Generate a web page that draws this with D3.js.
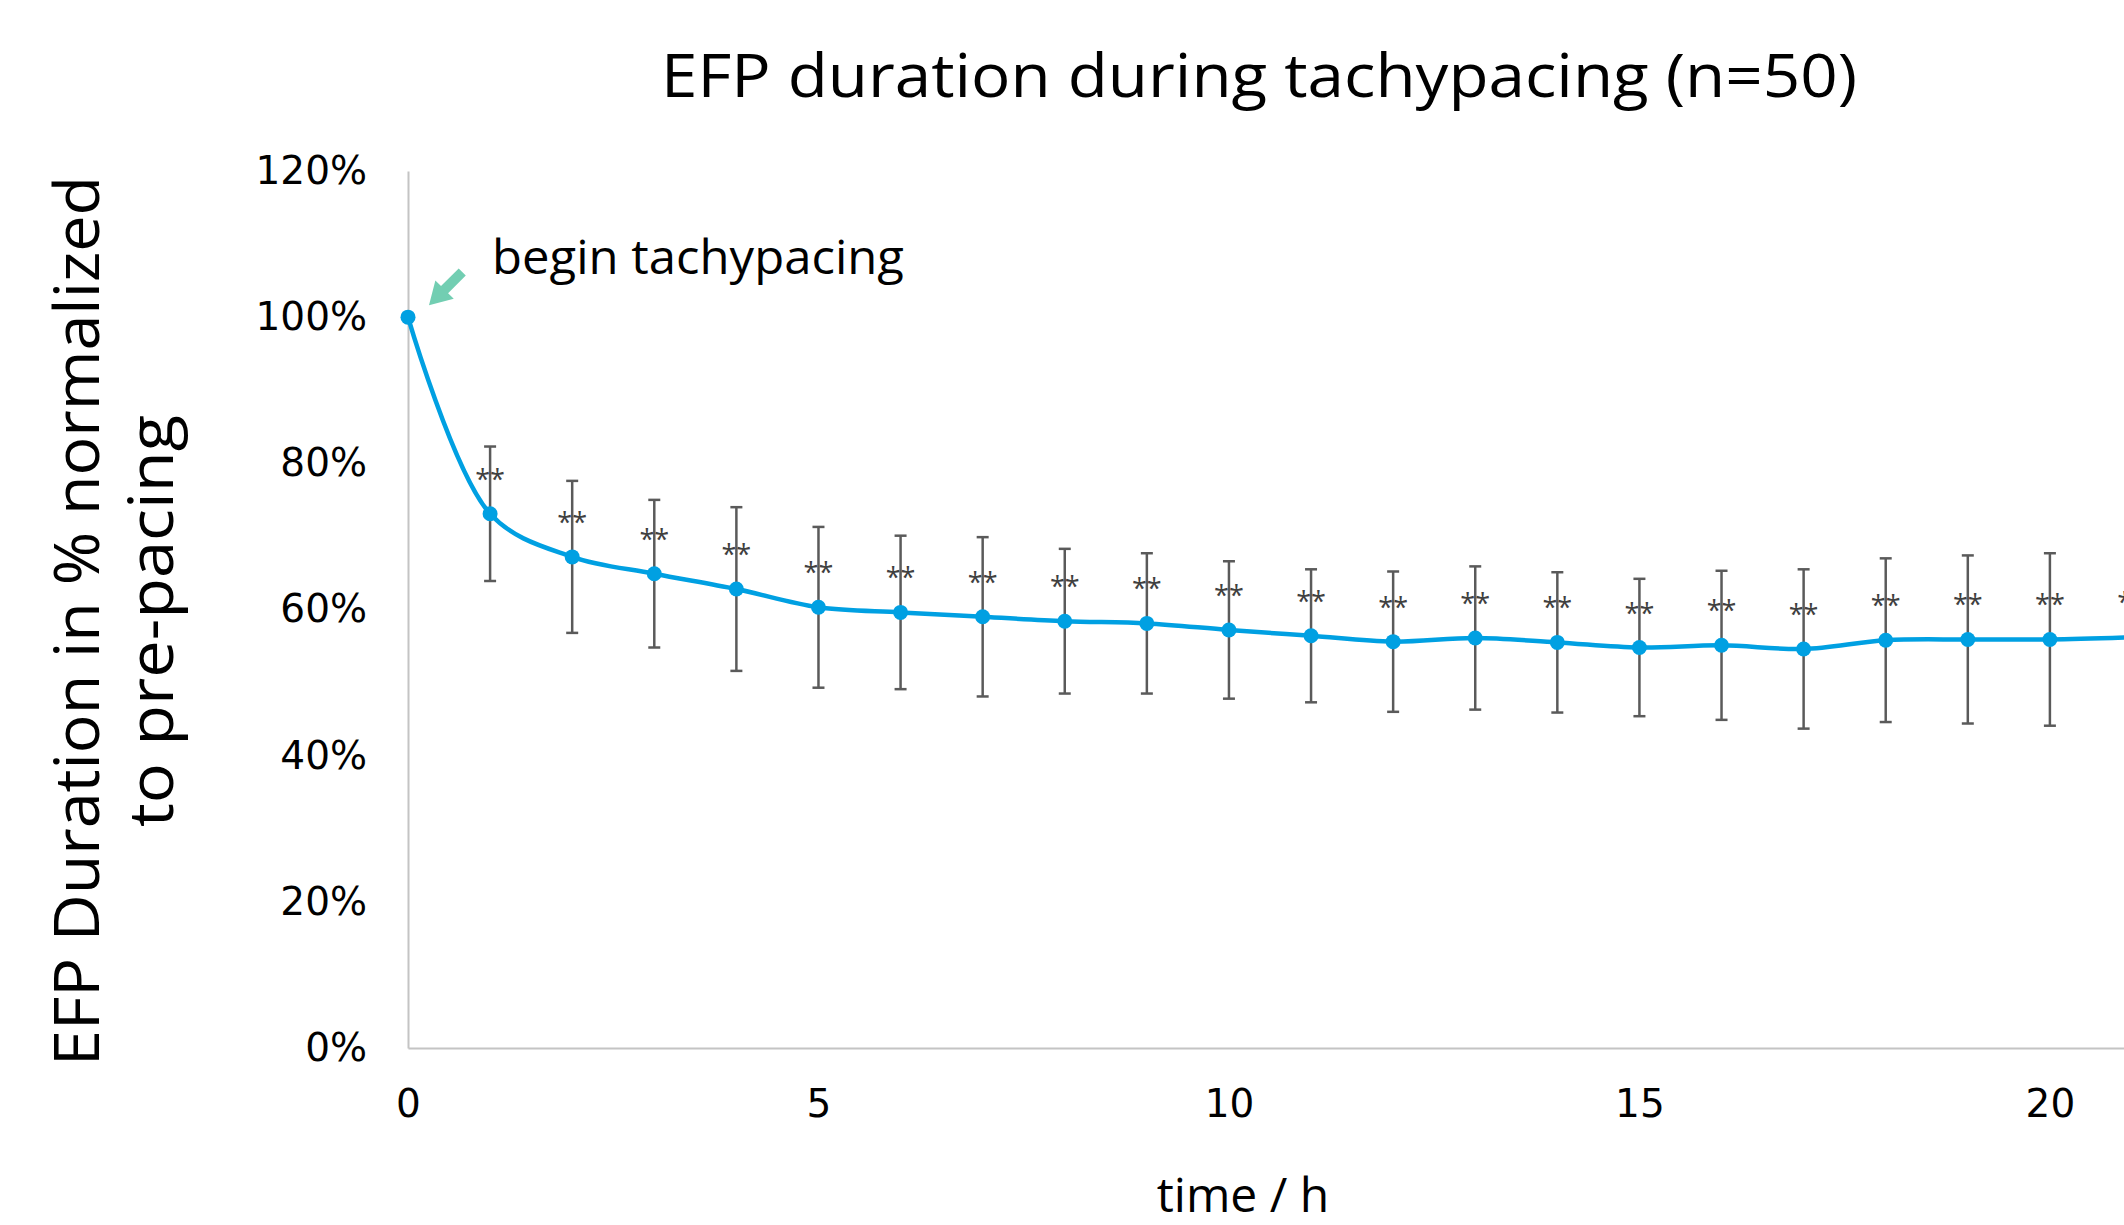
<!DOCTYPE html>
<html>
<head>
<meta charset="utf-8">
<script src="https://cdn.jsdelivr.net/npm/d3@7"></script>
<style>
    body { margin: 0; background: #fff; overflow: hidden; }
    #chart { width: 2124px; height: 1225px; }
</style>
</head>
<body>
<div id="chart"></div>
<script>
// values (percent of pre-pacing duration)
const hours = [0, 1, 2, 3, 4, 5, 6, 7, 8, 9, 10, 11, 12, 13, 14, 15, 16, 17, 18, 19, 20, 21];
const meanPct = [100, 73.1, 67.2, 64.9, 62.8, 60.3, 59.6, 59.0, 58.4, 58.1, 57.2, 56.4, 55.6, 56.1, 55.5, 54.8, 55.1, 54.6, 55.8, 55.9, 55.9, 56.2];
const sdPct = [0, 9.2, 10.4, 10.1, 11.2, 11.0, 10.5, 10.9, 9.9, 9.6, 9.4, 9.1, 9.6, 9.8, 9.6, 9.4, 10.2, 10.9, 11.2, 11.5, 11.8, 12.0];
const sigLabels = ["", "**", "**", "**", "**", "**", "**", "**", "**", "**", "**", "**", "**", "**", "**", "**", "**", "**", "**", "**", "**", "**"];
const yTicks = [0, 20, 40, 60, 80, 100, 120];
const xTicks = [0, 5, 10, 15, 20];

class EfpChart {
    constructor(_parentElement) {
        this.parentElement = _parentElement;
        this.initVis();
    }

    initVis() {
        let vis = this;

        vis.margin = {top: 171, left: 408};
        vis.width = 1724;   // 0..21 h, runs off the right edge like the original
        vis.height = 877;

        vis.svg = d3.select("#" + vis.parentElement).append("svg")
            .attr("width", 2124)
            .attr("height", 1225)
            .style("font-family", "'Open Sans', 'Noto Sans', sans-serif");

        vis.svg.append("text")
            .attr("x", 1259)
            .attr("y", 97)
            .attr("text-anchor", "middle")
            .style("font-size", "61px")
            .attr("textLength", 1196)
            .attr("lengthAdjust", "spacingAndGlyphs")
            .text("EFP duration during tachypacing (n=50)");

        // y title, two lines
        vis.svg.append("text")
            .attr("transform", "translate(99,621) rotate(-90)")
            .attr("text-anchor", "middle")
            .style("font-size", "63px")
            .attr("textLength", 890)
            .attr("lengthAdjust", "spacingAndGlyphs")
            .text("EFP Duration in % normalized");
        vis.svg.append("text")
            .attr("transform", "translate(173,621) rotate(-90)")
            .attr("text-anchor", "middle")
            .style("font-size", "63px")
            .attr("textLength", 412)
            .attr("lengthAdjust", "spacingAndGlyphs")
            .text("to pre-pacing");

        vis.svg.append("text")
            .attr("x", 1243)
            .attr("y", 1212)
            .attr("text-anchor", "middle")
            .style("font-size", "48px")
            .text("time / h");

        vis.g = vis.svg.append("g")
            .attr("transform", "translate(" + vis.margin.left + "," + vis.margin.top + ")");

        vis.x = d3.scaleLinear().domain([0, 21]).range([0, vis.width]);
        vis.y = d3.scaleLinear().domain([0, 120]).range([vis.height, 0]);

        vis.line = d3.line()
            .x(d => vis.x(d.hour))
            .y(d => vis.y(d.mean))
            .curve(d3.curveCatmullRom.alpha(0.5));

        vis.wrangleData();
    }

    wrangleData() {
        let vis = this;
        vis.data = hours.map((h, i) => ({
            hour: h,
            mean: meanPct[i],
            sd: sdPct[i],
            sig: sigLabels[i]
        }));
        vis.updateVis();
    }

    updateVis() {
        let vis = this;

        // axes
        let yAxis = vis.g.append("g")
            .call(d3.axisLeft(vis.y).tickValues(yTicks).tickSize(0).tickPadding(41).tickFormat(d => d + "%"));
        let xAxis = vis.g.append("g")
            .attr("transform", `translate(0,${vis.height})`)
            .call(d3.axisBottom(vis.x).tickValues(xTicks).tickSize(0).tickPadding(41).tickFormat(d3.format("d")));

        [yAxis, xAxis].forEach(ax => {
            ax.select(".domain").attr("stroke", "#c4c4c4").attr("stroke-width", 2);
            ax.selectAll("text")
                .style("font-size", "39px")
                .style("font-family", "'DejaVu Sans', sans-serif")
                .attr("fill", "#000");
        });

        let withErr = vis.data.filter(d => d.sd > 0);

        // error bars
        let eb = vis.g.append("g")
            .attr("stroke", "#5a5a5a")
            .attr("stroke-width", 2.5);
        eb.selectAll(".err")
            .data(withErr).enter().append("line")
            .attr("x1", d => vis.x(d.hour))
            .attr("x2", d => vis.x(d.hour))
            .attr("y1", d => vis.y(d.mean + d.sd))
            .attr("y2", d => vis.y(d.mean - d.sd));
        eb.selectAll(".capTop")
            .data(withErr).enter().append("line")
            .attr("x1", d => vis.x(d.hour) - 6)
            .attr("x2", d => vis.x(d.hour) + 6)
            .attr("y1", d => vis.y(d.mean + d.sd))
            .attr("y2", d => vis.y(d.mean + d.sd));
        eb.selectAll(".capBot")
            .data(withErr).enter().append("line")
            .attr("x1", d => vis.x(d.hour) - 6)
            .attr("x2", d => vis.x(d.hour) + 6)
            .attr("y1", d => vis.y(d.mean - d.sd))
            .attr("y2", d => vis.y(d.mean - d.sd));

        // smoothed mean line
        vis.g.append("path")
            .datum(vis.data)
            .attr("fill", "none")
            .attr("stroke", "#00a0e2")
            .attr("stroke-width", 4.5)
            .attr("d", vis.line);

        vis.g.selectAll(".dot")
            .data(vis.data).enter().append("circle")
            .attr("cx", d => vis.x(d.hour))
            .attr("cy", d => vis.y(d.mean))
            .attr("r", 7.5)
            .attr("fill", "#00a0e2");

        // significance stars
        vis.g.selectAll(".sig")
            .data(withErr).enter().append("text")
            .attr("x", d => vis.x(d.hour))
            .attr("y", d => vis.y(d.mean) - 25)
            .attr("text-anchor", "middle")
            .style("font-size", "27px")
            .attr("fill", "#404040")
            .text(d => d.sig);

        // annotation at start point
        let x0 = vis.x(vis.data[0].hour), y0 = vis.y(vis.data[0].mean);
        vis.g.append("path")
            .attr("d", "M-47,-5L-22,-5L-22,-13L0,0L-22,13L-22,5L-47,5Z")
            .attr("transform", `translate(${x0 + 21},${y0 - 12}) rotate(135)`)
            .attr("fill", "#72ceb2");

        vis.g.append("text")
            .attr("x", x0 + 84)
            .attr("y", y0 - 43)
            .style("font-size", "47px")
            .attr("textLength", 412)
            .attr("lengthAdjust", "spacingAndGlyphs")
            .text("begin tachypacing");
    }
}

new EfpChart("chart");
</script>
</body>
</html>
